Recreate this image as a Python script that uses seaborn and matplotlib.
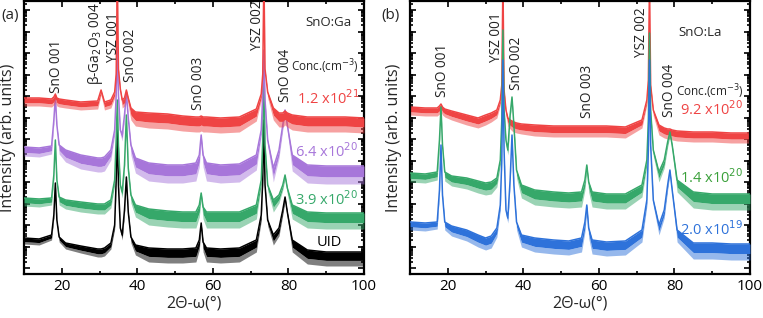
import seaborn as sns
import pandas as pd
import numpy as np
import matplotlib.pyplot as plt
from matplotlib.ticker import MultipleLocator, FixedLocator

sns.set_theme(style="ticks")
plt.rcParams['font.family'] = ['Open Sans', 'DejaVu Sans']

# 2theta knots, panel (a) SnO:Ga
x_a = [10, 14, 17.3, 17.9, 18.3, 18.7, 19.3, 21, 25, 29.5, 30.4, 31.3,
       33.0, 34.0, 34.4, 34.7, 35.0, 35.5, 36.0, 36.6, 37.1, 37.6, 38.3, 39.5,
       43, 48, 52, 55.5, 56.4, 56.9, 57.4, 58.3, 62, 67,
       71.5, 72.8, 73.2, 73.5, 73.8, 74.5, 76.0, 77.5, 78.5, 79.1, 79.7, 81.0,
       85, 90, 95, 100]

# intensity (arb. units, stacked) - top edge of each trace
uid_a = [36, 35, 39, 59, 91, 54, 37, 31, 28, 25, 25, 26,
         31, 49, 94, 144, 89, 46, 39, 64, 97, 62, 37, 29,
         26, 25, 25, 26, 34, 51, 32, 26, 25, 26,
         34, 59, 94, 154, 89, 54, 39, 46, 64, 77, 62, 34,
         24, 22, 22, 22]
c39_a = [76, 75, 76, 99, 134, 94, 77, 74, 72, 70, 70, 70,
         74, 94, 134, 174, 129, 89, 82, 109, 159, 106, 79, 69,
         65, 63, 62, 62, 69, 81, 67, 62, 62, 62,
         69, 94, 134, 214, 129, 89, 74, 79, 89, 99, 86, 69,
         62, 61, 61, 61]
c64_a = [127, 126, 128, 154, 177, 149, 129, 124, 119, 116, 116, 117,
         124, 144, 179, 227, 179, 144, 139, 159, 181, 156, 129, 116,
         111, 109, 109, 111, 119, 139, 119, 111, 109, 110,
         119, 144, 179, 224, 174, 134, 106, 124, 149, 164, 149, 119,
         109, 108, 108, 108]
c12_a = [176, 176, 175, 177, 180, 176, 175, 174, 172, 173, 184, 172,
         174, 182, 200, 300, 205, 185, 174, 176, 184, 176, 166, 162,
         161, 160, 158, 157, 157, 158, 157, 157, 156, 157,
         165, 180, 200, 300, 205, 182, 166, 161, 161, 163, 161, 159,
         157, 157, 157, 156]

# depth of the noise band below each trace
uid_a_noise = [6, 6, 5, 3, 2, 3, 5, 6, 7, 8, 8, 8,
               6, 4, 3, 2, 3, 4, 5, 4, 3, 4, 6, 10,
               14, 14, 14, 14, 10, 5, 10, 14, 14, 14,
               12, 6, 3, 2, 3, 6, 10, 8, 5, 4, 6, 12,
               14, 14, 14, 14]
c39_a_noise = [8, 8, 7, 4, 3, 4, 8, 9, 10, 10, 10, 10,
               8, 5, 3, 2, 3, 5, 6, 4, 3, 4, 8, 12,
               16, 16, 16, 16, 12, 6, 12, 16, 16, 16,
               14, 6, 3, 2, 3, 6, 12, 8, 5, 4, 6, 14,
               16, 16, 16, 16]
c64_a_noise = [9, 9, 8, 4, 3, 4, 9, 12, 14, 14, 14, 14,
               10, 5, 3, 2, 3, 5, 6, 4, 3, 4, 10, 15,
               18, 18, 18, 18, 12, 6, 12, 18, 18, 18,
               15, 6, 3, 2, 3, 6, 14, 8, 5, 4, 6, 16,
               18, 18, 18, 18]
c12_a_noise = [8, 8, 8, 8, 8, 8, 8, 8, 8, 8, 5, 8,
               8, 6, 3, 0, 3, 5, 8, 8, 6, 8, 12, 14,
               15, 15, 15, 15, 15, 15, 15, 15, 15, 15,
               12, 6, 3, 0, 3, 6, 12, 14, 14, 14, 14, 15,
               15, 15, 15, 15]

# panel (b) SnO:La
x_b = [10, 14, 17.2, 17.8, 18.2, 18.6, 19.2, 21, 25, 28, 30, 31.5,
       33.0, 33.9, 34.3, 34.6, 34.9, 35.4, 35.9, 36.5, 37.0, 37.5, 38.2, 39.5,
       43, 48, 52, 55.4, 56.3, 56.8, 57.3, 58.2, 62, 67,
       71.4, 72.7, 73.1, 73.4, 73.7, 74.4, 75.9, 77.3, 78.2, 78.8, 79.4, 80.7,
       85, 90, 95, 100]
c92_b = [167, 166, 166, 168, 170, 167, 165, 163, 159, 156, 159, 161,
         164, 174, 189, 294, 184, 164, 156, 154, 153, 152, 151, 150,
         149, 148, 148, 148, 148, 148, 148, 148, 148, 147,
         154, 174, 194, 294, 189, 164, 149, 146, 145, 145, 144, 143,
         142, 142, 141, 141]
c14_b = [101, 100, 102, 134, 167, 129, 102, 98, 96, 93, 91, 92,
         96, 114, 154, 244, 164, 134, 124, 159, 177, 149, 104, 89,
         84, 82, 81, 82, 94, 109, 92, 82, 80, 80,
         89, 114, 154, 241, 164, 124, 102, 114, 132, 142, 129, 94,
         82, 80, 80, 80]
c20_b = [52, 51, 52, 84, 129, 79, 52, 48, 44, 39, 36, 38,
         46, 69, 114, 214, 124, 64, 56, 94, 139, 89, 52, 39,
         36, 34, 33, 36, 52, 69, 46, 34, 32, 33,
         44, 74, 124, 214, 129, 74, 49, 64, 89, 104, 84, 44,
         31, 31, 30, 30]
c92_b_noise = [8, 8, 8, 8, 8, 8, 8, 9, 10, 10, 10, 9,
               8, 5, 3, 0, 3, 6, 8, 9, 10, 10, 10, 10,
               11, 11, 11, 11, 11, 11, 11, 11, 11, 11,
               8, 5, 3, 0, 3, 6, 10, 10, 10, 10, 10, 10,
               10, 10, 10, 10]
c14_b_noise = [9, 9, 8, 4, 3, 4, 9, 10, 11, 12, 12, 12,
               9, 5, 3, 2, 3, 5, 5, 4, 3, 4, 8, 13,
               15, 15, 15, 15, 10, 5, 10, 15, 15, 15,
               12, 6, 3, 2, 3, 6, 10, 8, 5, 4, 6, 12,
               16, 16, 16, 16]
c20_b_noise = [8, 8, 7, 4, 3, 4, 8, 10, 11, 12, 12, 12,
               9, 5, 3, 2, 3, 5, 5, 4, 3, 4, 8, 12,
               14, 14, 14, 14, 10, 5, 10, 14, 14, 14,
               12, 6, 3, 2, 3, 6, 10, 8, 5, 4, 6, 12,
               16, 16, 16, 16]

RED = "#EF4444"
PURPLE = "#A776DA"
GREEN = "#36A86A"
BLUE = "#2E72DA"

panel_a = [("UID", uid_a, uid_a_noise, "black"),
           ("3.9e20", c39_a, c39_a_noise, GREEN),
           ("6.4e20", c64_a, c64_a_noise, PURPLE),
           ("1.2e21", c12_a, c12_a_noise, RED)]
panel_b = [("9.2e20", c92_b, c92_b_noise, RED),
           ("1.4e20", c14_b, c14_b_noise, GREEN),
           ("2.0e19", c20_b, c20_b_noise, BLUE)]

peaks_a = [("SnO 001", 18.7, 181), ("β-Ga$_2$O$_3$ 004", 28.8, 189),
           ("YSZ 001", 33.6, 212), ("SnO 002", 38.1, 192),
           ("SnO 003", 56.1, 164), ("YSZ 002", 71.7, 224),
           ("SnO 004", 79.1, 172)]
peaks_b = [("SnO 001", 18.5, 177), ("YSZ 001", 33.0, 212),
           ("SnO 002", 38.3, 184), ("SnO 003", 56.9, 156),
           ("YSZ 002", 71.4, 217), ("SnO 004", 78.8, 157)]

fig = plt.figure(figsize=(7.63, 3.18), dpi=100)
ax_a = fig.add_axes([24 / 763, 44 / 318, 340 / 763, 273 / 318])
ax_b = fig.add_axes([410 / 763, 44 / 318, 340 / 763, 273 / 318])


def draw_panel(ax, xs, series):
    frames = []
    for name, ys, _, _ in series:
        frames.append(pd.DataFrame({"two_theta": xs, "I": ys, "sample": name}))
    df = pd.concat(frames, ignore_index=True)
    names = [s[0] for s in series]
    pal = {s[0]: s[3] for s in series}
    sns.lineplot(data=df, x="two_theta", y="I", hue="sample", hue_order=names,
                 palette=pal, estimator=None, sort=False, lw=1.1,
                 legend=False, ax=ax)
    for i, (name, ys, noise, col) in enumerate(series):
        ax.lines[i].set_zorder(2 + i)
        ys = np.array(ys)
        noise = np.array(noise)
        # dense core of the noise, then sparser spikes below it
        ax.fill_between(xs, ys - 0.6 * noise, ys, color=col, lw=0, zorder=2 + i)
        ax.fill_between(xs, ys - noise, ys - 0.6 * noise, color=col, alpha=0.5,
                        lw=0, zorder=2 + i)

    ax.set_xlim(10, 100)
    ax.set_ylim(0, 273)
    ax.xaxis.set_major_locator(MultipleLocator(20))
    ax.xaxis.set_minor_locator(MultipleLocator(10))
    majors = [264 - 21.5 * k for k in range(13)]
    minors = [m + 21.5 * np.log10(f) for m in majors for f in range(2, 10)]
    ax.yaxis.set_major_locator(FixedLocator(majors))
    ax.yaxis.set_minor_locator(FixedLocator([m for m in minors if m < 273]))
    ax.set_yticklabels([])
    ax.tick_params(which="both", direction="in", top=True, right=True,
                   width=1.2, colors="black", labelsize=11)
    ax.tick_params(which="major", length=4)
    ax.tick_params(which="minor", length=2)
    for sp in ax.spines.values():
        sp.set_linewidth(1.6)
        sp.set_color("black")
    ax.set_xlabel("2Θ-ω(°)", fontsize=11.5, labelpad=1)
    ax.set_ylabel("Intensity (arb. units)", fontsize=11.5, labelpad=2)


draw_panel(ax_a, x_a, panel_a)
draw_panel(ax_b, x_b, panel_b)

for ax, peaks in [(ax_a, peaks_a), (ax_b, peaks_b)]:
    for lab, px, py in peaks:
        ax.text(px, py, lab, rotation=90, ha="center", va="bottom",
                fontsize=9.8, color="#222222", zorder=10)

ax_a.text(90.5, 251, "SnO:Ga", ha="center", va="center", fontsize=9.5)
ax_a.text(98.6, 207, "Conc.(cm$^{-3}$)", ha="right", va="center", fontsize=8.5)
ax_a.text(99, 175, "1.2 x10$^{21}$", ha="right", va="center", fontsize=10.5, color=RED)
ax_a.text(98.5, 122, "6.4 x10$^{20}$", ha="right", va="center", fontsize=10.5, color=PURPLE)
ax_a.text(98.5, 74, "3.9 x10$^{20}$", ha="right", va="center", fontsize=10.5, color=GREEN)
ax_a.text(94.2, 32, "UID", ha="right", va="center", fontsize=10.5, color="black")

ax_b.text(86.8, 241, "SnO:La", ha="center", va="center", fontsize=9.5)
ax_b.text(98.4, 182, "Conc.(cm$^{-3}$)", ha="right", va="center", fontsize=8.5)
ax_b.text(98.2, 164, "9.2 x10$^{20}$", ha="right", va="center", fontsize=10.5, color=RED)
ax_b.text(98.2, 96, "1.4 x10$^{20}$", ha="right", va="center", fontsize=10.5, color="#3AA03A")
ax_b.text(98.2, 44, "2.0 x10$^{19}$", ha="right", va="center", fontsize=10.5, color=BLUE)

fig.text(10 / 763, 1 - 15 / 318, "(a)", ha="center", va="center", fontsize=11)
fig.text(390 / 763, 1 - 15 / 318, "(b)", ha="center", va="center", fontsize=11)

fig.savefig("out.png", dpi=100)
